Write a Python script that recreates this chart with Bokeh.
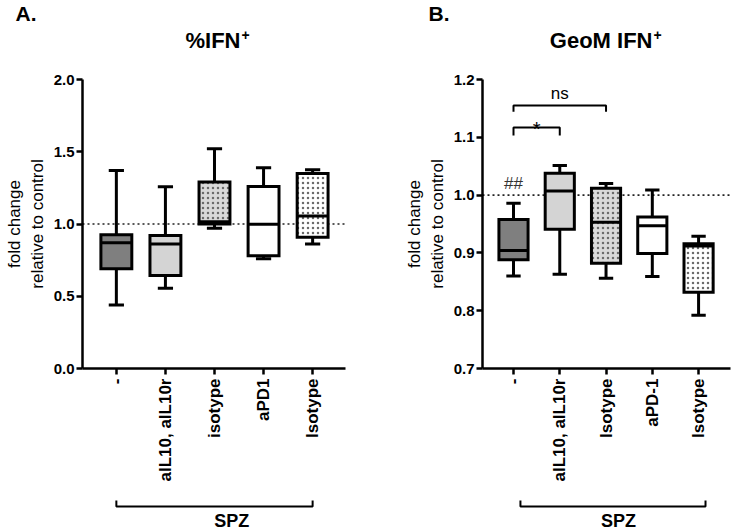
import math
from bokeh.plotting import figure
from bokeh.layouts import row, column
from bokeh.models import Range1d, FixedTicker, Span, ColumnDataSource
from bokeh.embed import file_html
from bokeh.resources import INLINE
from bokeh.core.properties import value

# ---------------- data ----------------
categories_A = ["-", "aIL10, aIL10r", "isotype", "aPD1", "Isotype"]
categories_B = ["-", "aIL10, aIL10r", "Isotype", "aPD-1", "Isotype"]
positions = [0, 1, 2, 3, 4]

# panel A: %IFN+ (min, q1, median, q3, max)
a_min = [0.44, 0.555, 0.97, 0.76, 0.862]
a_q1 = [0.69, 0.644, 1.00, 0.78, 0.908]
a_med = [0.87, 0.862, 1.015, 0.998, 1.055]
a_q3 = [0.925, 0.92, 1.29, 1.26, 1.35]
a_max = [1.37, 1.257, 1.52, 1.39, 1.376]

# panel B: GeoM IFN+
b_min = [0.860, 0.863, 0.856, 0.859, 0.792]
b_q1 = [0.888, 0.941, 0.882, 0.899, 0.832]
b_med = [0.904, 1.007, 0.953, 0.947, 0.912]
b_q3 = [0.958, 1.038, 1.012, 0.962, 0.916]
b_max = [0.986, 1.051, 1.020, 1.009, 0.929]

fills = ["#7f7f7f", "#d4d4d4", "#d9d9d9", "#ffffff", "#ffffff"]
hatches = ["blank", "blank", ".", "blank", "."]

# significance brackets in panel B: (from, to, height, text)
sig_from = [0, 0]
sig_to = [2, 1]
sig_y = [1.155, 1.117]
sig_text = ["ns", "*"]
hash_text = "##"
hash_pos = (0, 1.0)

titles = ["%IFN", "GeoM IFN"]
letters = ["A.", "B."]
group_label = "SPZ"

FONT = "Liberation Sans"
BOX_W = 0.63
CAP_W = 0.31
LW = 3
HEADER_H = 60
TOP = 19
FRAME_H = 289
MAIN_H = 430
BRACKET_H = 41


def make_header(width, title, letter, letter_x, join_x):
    h = figure(width=width, height=HEADER_H, x_range=Range1d(0, width),
               y_range=Range1d(0, HEADER_H), title=None, output_backend="svg",
               toolbar_location=None, x_axis_type=None, y_axis_type=None,
               min_border_left=0, min_border_right=0, min_border_top=0, min_border_bottom=0)
    h.outline_line_color = None
    h.grid.visible = False
    h.text(x=[letter_x], y=[47], text=[letter], text_align="left",
           text_baseline="alphabetic", text_font=value(FONT), text_font_style="bold",
           text_font_size="21px", text_color="black")
    h.text(x=[join_x], y=[20], text=[title], text_align="right",
           text_baseline="alphabetic", text_font=value(FONT), text_font_style="bold",
           text_font_size="22px", text_color="black")
    h.text(x=[join_x + 1], y=[26], text=["+"], text_align="left",
           text_baseline="alphabetic", text_font=value(FONT), text_font_style="bold",
           text_font_size="14px", text_color="black")
    return h


def make_panel(cats, mins, q1, med, q3, maxs, xr, yr, yticks, width, left, right):
    bottom = MAIN_H - TOP - FRAME_H
    p = figure(width=width, height=MAIN_H, x_range=Range1d(*xr), y_range=Range1d(*yr),
               title=None, output_backend="svg", toolbar_location=None, min_border_left=left,
               min_border_right=right, min_border_top=TOP, min_border_bottom=bottom)
    p.outline_line_color = None
    p.grid.visible = False
    p.background_fill_color = "white"
    p.border_fill_color = "white"

    # axes
    for ax in (p.xaxis[0], p.yaxis[0]):
        ax.axis_line_width = 2.5
        ax.axis_line_color = "black"
        ax.major_tick_line_width = 2.5
        ax.major_tick_line_color = "black"
        ax.major_tick_out = 6
        ax.major_tick_in = 0
        ax.minor_tick_line_color = None
        ax.major_label_text_font = FONT
        ax.major_label_text_font_style = "bold"
        ax.major_label_text_color = "black"
    p.xaxis.ticker = FixedTicker(ticks=positions)
    p.xaxis.major_label_overrides = {i: c for i, c in zip(positions, cats)}
    p.xaxis.major_label_orientation = math.pi / 2
    p.xaxis.major_label_text_font_size = "17px"
    p.xaxis.major_label_standoff = 4
    p.yaxis.ticker = FixedTicker(ticks=yticks)
    p.yaxis.major_label_overrides = {t: f"{t:.1f}" for t in yticks}
    p.yaxis.major_label_text_font_size = "15px"
    p.yaxis.major_label_standoff = 2
    p.yaxis.axis_label = "fold change\nrelative to control"
    p.yaxis.axis_label_text_font = FONT
    p.yaxis.axis_label_text_font_style = "normal"
    p.yaxis.axis_label_text_font_size = "17px"
    p.yaxis.axis_label_text_color = "black"
    p.yaxis.axis_label_standoff = 4

    # dotted reference line
    p.add_layout(Span(location=1.0, dimension="width", line_color="#222222", line_width=1.6,
                      line_dash="2 3", level="underlay"))

    src = ColumnDataSource(dict(
        x=positions, mn=mins, q1=q1, med=med, q3=q3, mx=maxs, fill=fills, hatch=hatches,
        xl=[x - BOX_W / 2 for x in positions], xr=[x + BOX_W / 2 for x in positions],
        cl=[x - CAP_W / 2 for x in positions], cr=[x + CAP_W / 2 for x in positions],
    ))
    # whiskers
    p.segment("x", "q3", "x", "mx", source=src, line_color="black", line_width=LW)
    p.segment("x", "q1", "x", "mn", source=src, line_color="black", line_width=LW)
    p.segment("cl", "mx", "cr", "mx", source=src, line_color="black", line_width=LW)
    p.segment("cl", "mn", "cr", "mn", source=src, line_color="black", line_width=LW)
    # boxes
    p.vbar(x="x", bottom="q1", top="q3", width=BOX_W, source=src, fill_color="fill",
           line_color="black", line_width=LW, line_join="miter",
           hatch_pattern="hatch", hatch_color="#6a6a6a", hatch_scale=5, hatch_weight=1.2)
    # medians
    p.segment("xl", "med", "xr", "med", source=src, line_color="black", line_width=LW)
    return p


def make_bracket(x_range, width, left, right, b0, b1, label_x):
    q = figure(width=width, height=BRACKET_H, x_range=x_range, y_range=Range1d(0, BRACKET_H),
               title=None, output_backend="svg", toolbar_location=None, x_axis_type=None,
               y_axis_type=None, min_border_left=left, min_border_right=right,
               min_border_top=0, min_border_bottom=0)
    q.outline_line_color = None
    q.grid.visible = False
    q.multi_line(xs=[[b0, b0, b1, b1]], ys=[[31, 25, 25, 31]], line_color="black",
                 line_width=2)
    q.text(x=[label_x], y=[11], text=[group_label], text_align="center",
           text_baseline="alphabetic", text_font=value(FONT), text_font_style="bold",
           text_font_size="18px", text_color="black")
    return q


hA = make_header(370, titles[0], letters[0], 15, 240)
hB = make_header(363, titles[1], letters[1], 428 - 370, 652 - 370)

pA = make_panel(categories_A, a_min, a_q1, a_med, a_q3, a_max, (-0.69, 4.67), (0.0, 2.0),
                [0.0, 0.5, 1.0, 1.5, 2.0], 370, 82, 25)
pB = make_panel(categories_B, b_min, b_q1, b_med, b_q3, b_max, (-0.67, 4.69), (0.7, 1.2),
                [0.7, 0.8, 0.9, 1.0, 1.1, 1.2], 363, 112, 3)

# significance annotations in panel B
for f, t, yv, txt in zip(sig_from, sig_to, sig_y, sig_text):
    leg = 0.011 if txt == "ns" else 0.014
    pB.multi_line(xs=[[f, f, t, t]], ys=[[yv - leg, yv, yv, yv - leg]],
                  line_color="black", line_width=2)
    pB.text(x=[(f + t) / 2], y=[yv + 0.004], text=[txt], text_align="center",
            text_baseline="bottom" if txt == "ns" else "middle",
            text_font=value(FONT), text_font_size="17px" if txt == "ns" else "20px",
            text_color="black", y_offset=0 if txt == "ns" else 4)
pB.text(x=[hash_pos[0]], y=[hash_pos[1] + 0.004], text=[hash_text], text_align="center",
        text_baseline="bottom", text_font=value(FONT), text_font_size="17px",
        text_color="#333333")

qA = make_bracket(pA.x_range, 370, 82, 25, 0, 4, 2.35)
qB = make_bracket(pB.x_range, 363, 112, 3, 0.15, 4.15, 2.27)

layout = column(row(hA, hB), row(pA, pB), row(qA, qB))
open("out.html", "w").write(file_html(layout, INLINE))
